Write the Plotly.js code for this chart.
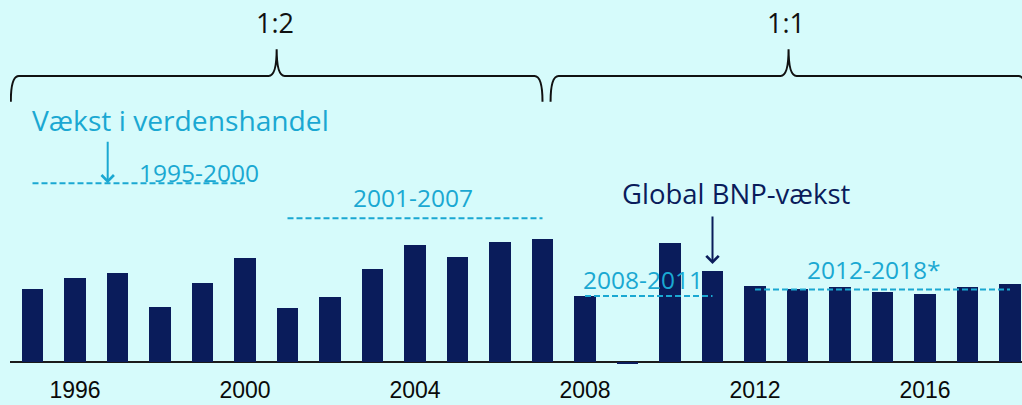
<!DOCTYPE html>
<html>
<head>
<meta charset="utf-8">
<script src="https://cdn.plot.ly/plotly-3.0.1.min.js"></script>
<style>html,body{margin:0;padding:0;background:#d6fbfb;}</style>
</head>
<body>
<div id="chart" style="width:1022px;height:405px;"></div>
<script>
// ---- data ----
const years = [1995,1996,1997,1998,1999,2000,2001,2002,2003,2004,2005,2006,2007,2008,2009,2010,2011,2012,2013,2014,2015,2016,2017,2018];
const gdpGrowth = [3.3,3.8,4.05,2.5,3.6,4.75,2.45,2.95,4.25,5.35,4.8,5.45,5.6,3.0,-0.1,5.4,4.15,3.45,3.3,3.4,3.2,3.1,3.4,3.55];
const tickYears = [1996,2000,2004,2008,2012,2016];
const tickLabels = ['1996','2000','2004','2008','2012','2016'];
const periodLabels = ['1995-2000','2001-2007','2008-2011','2012-2018*'];
const periodStart = [1995,2001,2008,2012];
const periodEnd = [2000,2007,2011,2018];
const tradeGrowth = [8.15,6.55,3.0,3.3];
const braceLabels = ['1:2','1:1'];
const braceFrom = [1994.49,2007.19];
const braceTo = [2007.0,2018.39];

// ---- styles ----
const BG = '#d6fbfb', NAVY = '#0a1c5b', CYAN = '#1aa8d2', TXT = '#111111';
const FONT = '"Open Sans", Lato, sans-serif';
// pixel helpers (plot geometry)
const X = px => 1995 + (px - 32.5) / 42.5;
const Y = py => (361.7 - py) / 21.9;

const traces = [{
  type: 'bar', x: years, y: gdpGrowth, width: 0.5,
  marker: {color: NAVY}, hoverinfo: 'skip'
}];
periodLabels.forEach((lab, i) => {
  traces.push({
    type: 'scatter', mode: 'lines',
    x: [periodStart[i], periodEnd[i]], y: [tradeGrowth[i], tradeGrowth[i]],
    line: {color: CYAN, width: 2, dash: '6px,3px'}, hoverinfo: 'skip'
  });
});

// braces
const yh = Y(76), yb = Y(101.7), yt = Y(49.3), r = 8 / 42.5;
const shapes = braceLabels.map((lab, i) => {
  const x0 = braceFrom[i], x1 = braceTo[i], xm = (x0 + x1) / 2;
  return {
    type: 'path', xref: 'x', yref: 'y', layer: 'above',
    line: {color: TXT, width: 2},
    path: `M ${x0},${yb} Q ${x0},${yh} ${x0 + r},${yh} L ${xm - r},${yh} Q ${xm},${yh} ${xm},${yt} Q ${xm},${yh} ${xm + r},${yh} L ${x1 - r},${yh} Q ${x1},${yh} ${x1},${yb}`
  };
});

const annotations = [];
braceLabels.forEach((lab, i) => {
  annotations.push({x: (braceFrom[i] + braceTo[i]) / 2 - 0.05, y: Y(22.8), text: lab, showarrow: false,
    xanchor: 'center', yanchor: 'middle', font: {family: FONT, size: 27, color: TXT}});
});
const periodTextLeft = [137, 350.7, 580.7, 805];
const periodTextMid = [172.3, 197.5, 279, 269.2];
periodLabels.forEach((lab, i) => {
  annotations.push({x: X(periodTextLeft[i]), y: Y(periodTextMid[i]), text: lab, showarrow: false,
    xanchor: 'left', yanchor: 'middle', font: {family: FONT, size: 24.5, color: CYAN}});
});
annotations.push({x: X(29.7), y: Y(119.7), text: 'Vækst i verdenshandel', showarrow: false,
  xanchor: 'left', yanchor: 'middle', font: {family: FONT, size: 28.2, color: CYAN}});
annotations.push({x: X(619.7), y: Y(193.3), text: 'Global BNP-vækst', showarrow: false,
  xanchor: 'left', yanchor: 'middle', font: {family: FONT, size: 27.5, color: NAVY}});
// arrows
annotations.push({x: X(107.7), y: tradeGrowth[0], text: '', showarrow: true, ax: 0, ay: -43,
  arrowhead: 4, arrowsize: 1.2, arrowwidth: 2, arrowcolor: CYAN, standoff: 0});
annotations.push({x: 2011, y: Y(264), text: '', showarrow: true, ax: 0, ay: -49,
  arrowhead: 4, arrowsize: 1.2, arrowwidth: 2, arrowcolor: NAVY, standoff: 0});

const layout = {
  width: 1022, height: 405,
  margin: {l: 10, r: 0, t: 0, b: 31, pad: 0},
  paper_bgcolor: BG, plot_bgcolor: BG,
  showlegend: false, bargap: 0,
  xaxis: {range: [X(10), X(1022)], tickvals: tickYears, ticktext: tickLabels,
    showgrid: false, zeroline: false, showline: false, ticks: '',
    tickfont: {family: 'Arial, "Liberation Sans", sans-serif', size: 23, color: '#0a0a0a'}},
  yaxis: {range: [Y(374), Y(0)], showgrid: false, zeroline: true, zerolinecolor: '#1a1a1a',
    zerolinewidth: 2, showticklabels: false, ticks: ''},
  shapes: shapes, annotations: annotations
};
Plotly.newPlot('chart', traces, layout, {displayModeBar: false, staticPlot: true});
</script>
</body>
</html>
